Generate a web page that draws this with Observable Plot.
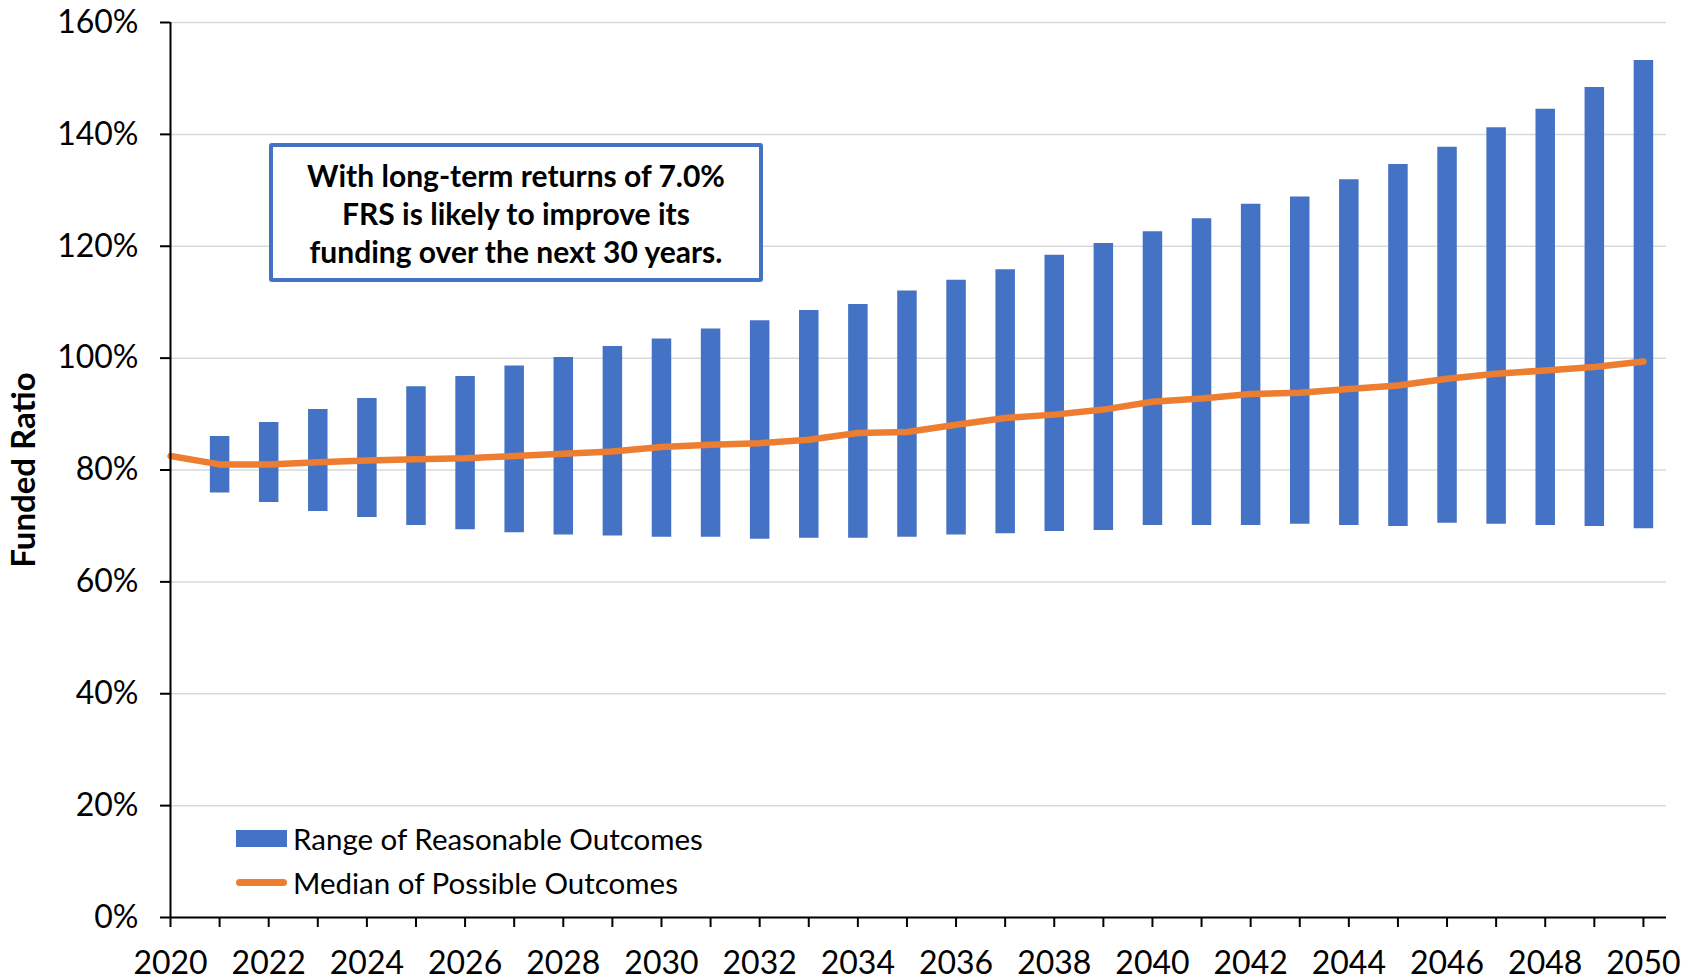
<!DOCTYPE html>
<html>
<head>
<meta charset="utf-8">
<script src="https://cdn.jsdelivr.net/npm/d3@7"></script>
<script src="https://cdn.jsdelivr.net/npm/@observablehq/plot@0.6"></script>
<style>
  html, body { margin: 0; padding: 0; background: #fff; }
  body { width: 1700px; height: 980px; overflow: hidden; font-family: Lato, "Open Sans", sans-serif; }
  #wrap { position: relative; width: 1700px; height: 980px; }
  #note {
    position: absolute; left: 269px; top: 143px; width: 494px; height: 139px;
    box-sizing: border-box; border: 4.5px solid #4472C4; border-radius: 3px; background: #fff;
    display: flex; align-items: center; justify-content: center; text-align: center;
    font-weight: bold; font-size: 30px; line-height: 38px; color: #000;
  }
  .leg { position: absolute; left: 236px; display: flex; align-items: center; font-size: 29.5px; color: #000; }
  .sw-bar { width: 51px; height: 17px; background: #4472C4; margin-right: 6px; }
  .sw-line { width: 51px; height: 6.5px; border-radius: 4px; background: #ED7D31; margin-right: 6px; }
</style>
</head>
<body>
<div id="wrap"></div>
<script>
const years  = [2020,2021,2022,2023,2024,2025,2026,2027,2028,2029,2030,2031,2032,2033,2034,2035,2036,2037,2038,2039,2040,2041,2042,2043,2044,2045,2046,2047,2048,2049,2050];
const rangeLow  = [null,75.9,74.2,72.6,71.5,70.1,69.3,68.8,68.4,68.2,68.0,68.0,67.6,67.8,67.8,68.0,68.4,68.6,69.0,69.2,70.1,70.1,70.1,70.3,70.1,69.9,70.5,70.3,70.1,69.9,69.5];
const rangeHigh = [null,86.0,88.5,90.8,92.8,94.9,96.7,98.6,100.1,102.1,103.4,105.2,106.7,108.5,109.6,112.0,113.9,115.8,118.4,120.5,122.6,124.9,127.5,128.8,131.9,134.6,137.7,141.2,144.5,148.4,153.2];
const median    = [82.5,81.0,81.0,81.4,81.7,81.9,82.1,82.5,82.9,83.3,84.1,84.5,84.8,85.4,86.6,86.8,88.1,89.3,89.9,90.8,92.2,92.8,93.6,93.8,94.5,95.1,96.3,97.2,97.8,98.4,99.4];
const yTicks = [0,20,40,60,80,100,120,140,160];
const xLabelYears = [2020,2022,2024,2026,2028,2030,2032,2034,2036,2038,2040,2042,2044,2046,2048,2050];
const seriesNames = ["Range of Reasonable Outcomes", "Median of Possible Outcomes"];
const yTitle = "Funded Ratio";
const noteLines = ["With long-term returns of 7.0%", "FRS is likely to improve its", "funding over the next 30 years."];

const rows = years.map((y, i) => ({year: y, low: rangeLow[i], high: rangeHigh[i], median: median[i]}));
const bars = rows.filter(d => d.low != null);

const chart = Plot.plot({
  width: 1700,
  height: 980,
  marginLeft: 170,
  marginRight: 34,
  marginTop: 22,
  marginBottom: 63,
  style: {fontFamily: "Lato, 'Open Sans', sans-serif", fontSize: "32px", color: "#000", background: "#fff"},
  x: {domain: [2020, 2050.47]},
  y: {domain: [0, 160]},
  marks: [
    Plot.gridY(yTicks, {stroke: "#d9d9d9", strokeOpacity: 1, strokeWidth: 1.5}),
    Plot.ruleX(bars, {x: "year", y1: "low", y2: "high", stroke: "#4472C4", strokeWidth: 19.5}),
    Plot.line(rows, {x: "year", y: "median", stroke: "#ED7D31", strokeWidth: 6.5, strokeLinecap: "round", strokeLinejoin: "round"}),
    Plot.ruleX([2020], {stroke: "#000", strokeWidth: 2}),
    Plot.ruleY([0], {stroke: "#000", strokeWidth: 2}),
    Plot.axisY({ticks: yTicks, tickFormat: d => d + "%", tickSize: 10, tickPadding: 22, strokeWidth: 2, fontSize: 32, label: null}),
    Plot.axisX({ticks: years, tickFormat: () => "", tickSize: 10, strokeWidth: 2, label: null}),
    Plot.axisX({ticks: xLabelYears, tickFormat: d => String(d), tickSize: 0, tickPadding: 34, fontSize: 32, label: null}),
    Plot.text([yTitle], {frameAnchor: "left", textAnchor: "middle", rotate: -90, dx: -146, fontWeight: "bold", fontSize: 33, fill: "#000"})
  ]
});

const wrap = document.getElementById("wrap");
wrap.appendChild(chart);

const note = document.createElement("div");
note.id = "note";
note.innerHTML = noteLines.join("<br>");
wrap.appendChild(note);

const leg1 = document.createElement("div");
leg1.className = "leg";
leg1.style.top = "821px";
leg1.innerHTML = `<div class="sw-bar"></div><span>${seriesNames[0]}</span>`;
wrap.appendChild(leg1);

const leg2 = document.createElement("div");
leg2.className = "leg";
leg2.style.top = "865px";
leg2.innerHTML = `<div class="sw-line"></div><span>${seriesNames[1]}</span>`;
wrap.appendChild(leg2);
</script>
</body>
</html>
